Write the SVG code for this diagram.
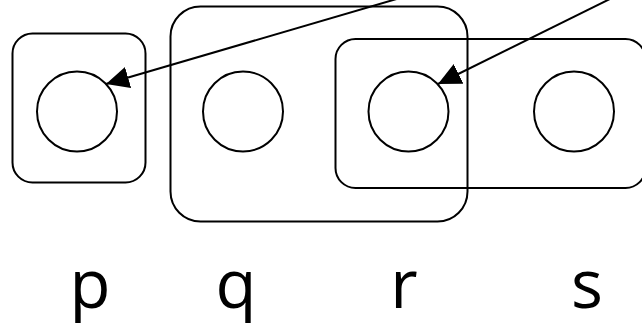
<svg xmlns="http://www.w3.org/2000/svg" width="642" height="323" viewBox="0 0 642 323">
<defs>
<style>
.box{fill:none;stroke:#000;stroke-width:2}
.node{fill:none;stroke:#000;stroke-width:2}
.lbl{font-family:"Open Sans","Liberation Sans",Arial,sans-serif;font-size:67px;fill:#000;text-anchor:middle}
.edge{fill:none;stroke:#000;stroke-width:2}
</style>
<marker id="ah" markerUnits="userSpaceOnUse" markerWidth="26" markerHeight="24" refX="23" refY="11" orient="auto">
<path d="M0,0 L23,11 L0,22 z" fill="#000"/>
</marker>
</defs>
<g id="groups">
<rect id="set-p" class="box" x="12.5" y="33.5" width="133" height="149" rx="20"/>
<rect id="set-qr" class="box" x="170.5" y="6.5" width="297" height="215" rx="30"/>
<rect id="set-rs" class="box" x="335.5" y="39" width="310" height="149" rx="20"/>
</g>
<g id="node-p"><circle class="node" cx="77" cy="111.5" r="40"/></g>
<g id="node-q"><circle class="node" cx="243" cy="111.5" r="40"/></g>
<g id="node-r"><circle class="node" cx="408.5" cy="111.5" r="40"/></g>
<g id="node-s"><circle class="node" cx="574" cy="111.5" r="40"/></g>
<g id="connectors">
<line class="edge" x1="400" y1="-2" x2="106" y2="84" marker-end="url(#ah)"/>
<line class="edge" x1="620" y1="-6" x2="438" y2="84" marker-end="url(#ah)"/>
</g>
<g id="labels">
<text class="lbl" x="90" y="308">p</text>
<text class="lbl" x="236" y="308">q</text>
<text class="lbl" x="404" y="308">r</text>
<text class="lbl" x="587" y="308">s</text>
</g>
</svg>
